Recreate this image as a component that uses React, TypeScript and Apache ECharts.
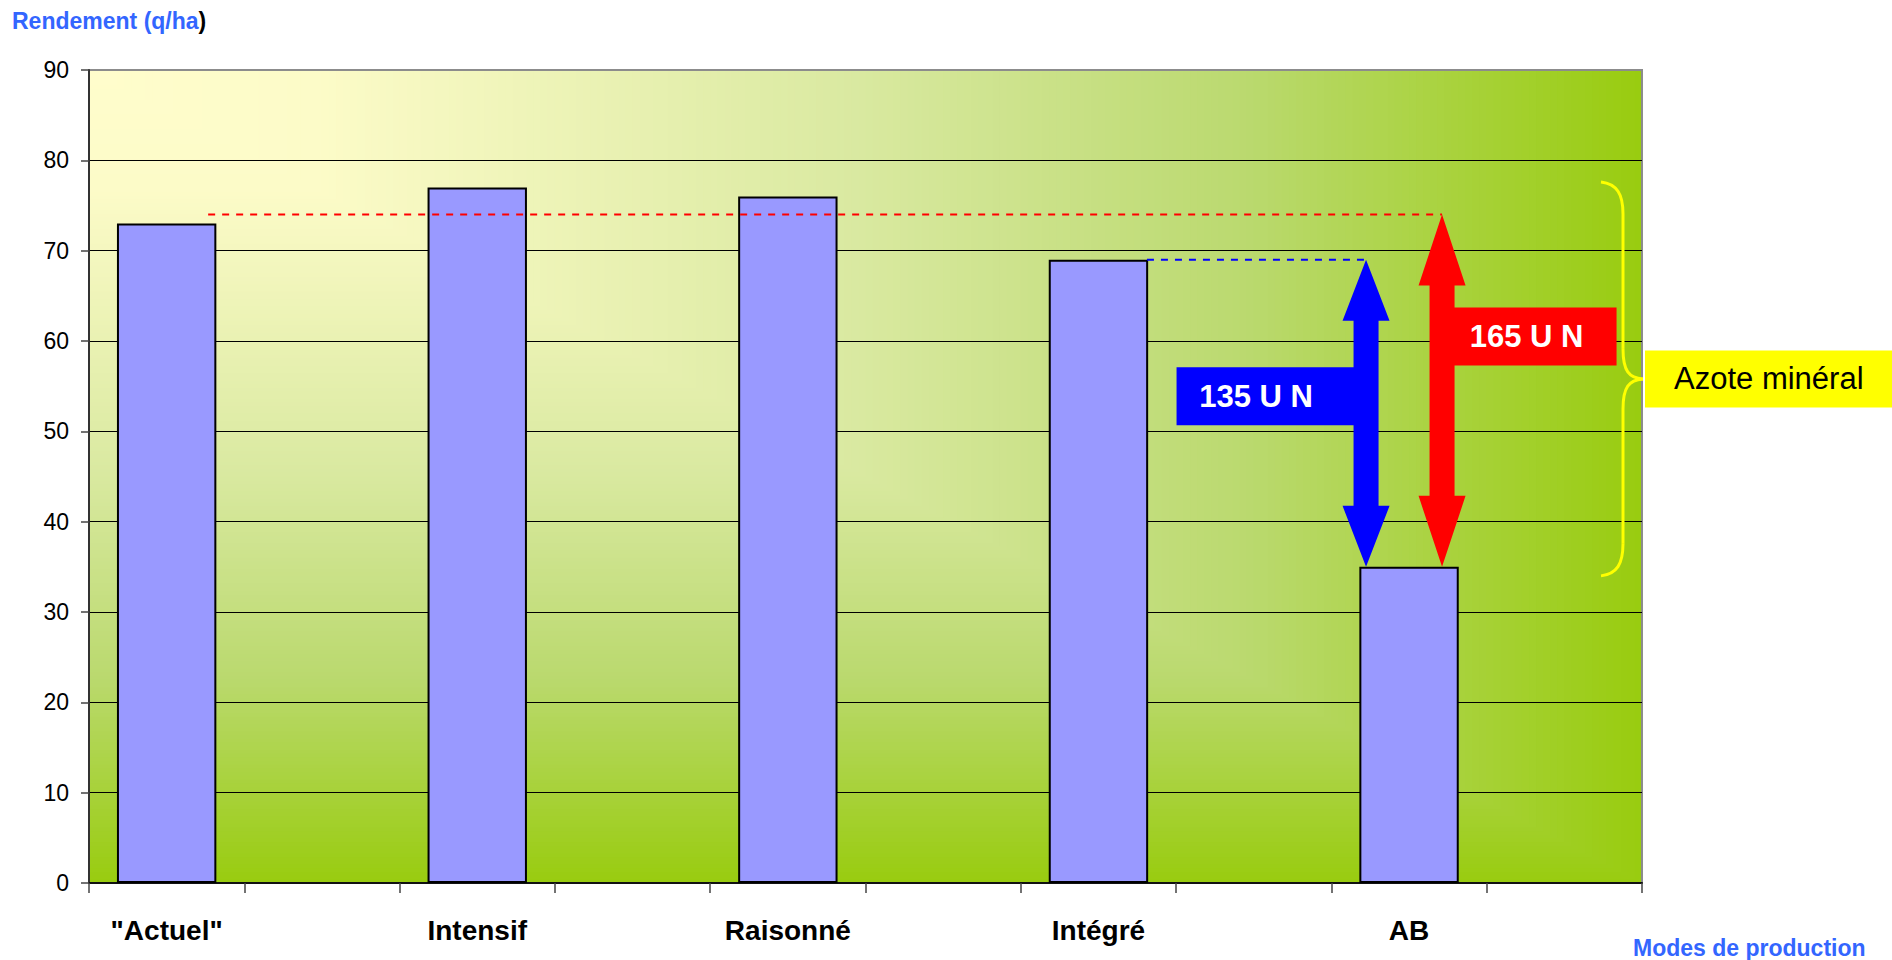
import { useEffect, useRef } from 'react';
import * as echarts from 'echarts';

// Yield per production mode (q/ha)
const categories = ['"Actuel"', 'Intensif', 'Raisonné', 'Intégré', 'AB'];
const yields = [73, 77, 76, 69, 35];

// Value-axis scale
const yMin = 0;
const yMax = 90;
const yStep = 10;

// Nitrogen gap annotations: from a yield level down to the organic (AB) yield
const nitrogenLabels = ['135 U N', '165 U N'];
const gapTopLevels = [69, 74];
const gapBottomLevel = 35;
const gapFromCategory = ['Intégré', '"Actuel"'];
const gapAtCategory = 'AB';

// Brace grouping the mineral-nitrogen effect
const braceTopLevel = 77.6;
const braceBottomLevel = 34;
const braceLabel = 'Azote minéral';

const FONT = '"Liberation Sans", Arial, Helvetica, sans-serif';
const GRID = { left: 89, top: 70, width: 1553, height: 813 };

// Each category occupies one slot followed by an empty spacer slot
const slotNames = categories.flatMap((c, i) => [c, `spacer${i}`]);
const slotOf = (name: string) => categories.indexOf(name) * 2;
const barData = yields.flatMap((v) => [v, '-']);

// Drawing parameters of the two double arrows (blue label on the left, red on the right)
const ARROW_STYLE = [
  { color: '#0000FF', side: -1, offset: -43, headLen: 61, boxLen: 177, boxFrac: 0.445, lineStart: 48.5 },
  { color: '#FF0000', side: 1, offset: 33, headLen: 71, boxLen: 162, boxFrac: 0.346, lineStart: 41.5 },
];

const GRADIENT_STOPS: [number, number[]][] = [
  [0, [255, 253, 204]],
  [0.15, [252, 251, 200]],
  [0.5, [217, 233, 160]],
  [0.75, [186, 217, 110]],
  [1, [153, 204, 16]],
];

function colorAt(t: number): string {
  for (let i = 1; i < GRADIENT_STOPS.length; i++) {
    const [t1, c1] = GRADIENT_STOPS[i];
    const [t0, c0] = GRADIENT_STOPS[i - 1];
    if (t <= t1) {
      const f = (t - t0) / (t1 - t0);
      const c = c0.map((v, k) => Math.round(v + (c1[k] - v) * f));
      return `rgb(${c[0]},${c[1]},${c[2]})`;
    }
  }
  const c = GRADIENT_STOPS[GRADIENT_STOPS.length - 1][1];
  return `rgb(${c[0]},${c[1]},${c[2]})`;
}

// Rectangular "from corner" fill: nested rectangles anchored at the top-left corner
function plotBackground() {
  const steps = 220;
  const els: any[] = [];
  for (let i = steps; i >= 1; i--) {
    const t = i / steps;
    els.push({
      type: 'rect',
      silent: true,
      z: -10,
      shape: { x: GRID.left, y: GRID.top, width: GRID.width * t, height: GRID.height * t },
      style: { fill: colorAt(t) },
    });
  }
  return els;
}

function renderGap(params: any, api: any) {
  const idx = params.dataIndex;
  const st = ARROW_STYLE[idx];
  const slot = api.value(0);
  const top = api.value(1);
  const bottom = api.value(2);
  const fromSlot = api.value(3);
  const [c0, yT] = api.coord([slot, top]);
  const [, yB] = api.coord([slot, bottom]);
  const [fx] = api.coord([fromSlot, top]);
  const cx = c0 + st.offset;
  const hw = 23.5;
  const sw = 12.5;
  const hl = st.headLen;
  const s = st.side;
  const n = -s;
  const boxMid = yT + st.boxFrac * (yB - yT);
  const bt = boxMid - 29;
  const bb = boxMid + 29;
  const bx = cx + s * (sw + st.boxLen);
  const points = [
    [cx, yT],
    [cx + n * hw, yT + hl],
    [cx + n * sw, yT + hl],
    [cx + n * sw, yB - hl],
    [cx + n * hw, yB - hl],
    [cx, yB],
    [cx + s * hw, yB - hl],
    [cx + s * sw, yB - hl],
    [cx + s * sw, bb],
    [bx, bb],
    [bx, bt],
    [cx + s * sw, bt],
    [cx + s * sw, yT + hl],
    [cx + s * hw, yT + hl],
  ];
  const textX = (cx + s * sw + bx) / 2 - 9;
  return {
    type: 'group',
    children: [
      {
        type: 'line',
        shape: { x1: fx + st.lineStart, y1: yT, x2: cx, y2: yT },
        style: { stroke: st.color, lineWidth: 2, lineDash: [7, 7] },
      },
      {
        type: 'polygon',
        shape: { points },
        style: { fill: st.color },
      },
      {
        type: 'text',
        style: {
          text: nitrogenLabels[idx],
          x: textX,
          y: boxMid,
          fill: '#FFFFFF',
          fontSize: 31,
          fontWeight: 'bold',
          fontFamily: FONT,
          align: 'center',
          verticalAlign: 'middle',
        },
      },
    ],
  };
}

export default function App() {
  const ref = useRef<HTMLDivElement>(null);

  useEffect(() => {
    if (!ref.current) return;
    const chart = echarts.init(ref.current, null, { renderer: 'svg' });

    const gapData = gapTopLevels.map((top, i) => [
      slotOf(gapAtCategory),
      top,
      gapBottomLevel,
      slotOf(gapFromCategory[i]),
    ]);

    chart.setOption({
      animation: false,
      backgroundColor: '#FFFFFF',
      textStyle: { fontFamily: FONT },
      grid: {
        left: GRID.left,
        top: GRID.top,
        width: GRID.width,
        height: GRID.height,
        show: true,
        borderColor: '#8C8C8C',
        borderWidth: 2,
        backgroundColor: 'transparent',
      },
      xAxis: {
        type: 'category',
        data: slotNames,
        boundaryGap: true,
        axisLine: { show: true, lineStyle: { color: '#111', width: 2 } },
        axisTick: { show: true, interval: 0, length: 10, lineStyle: { color: '#444', width: 1.5 } },
        axisLabel: {
          interval: 0,
          margin: 33,
          color: '#000',
          fontSize: 28,
          fontWeight: 'bold',
          fontFamily: FONT,
          formatter: (v: string) => (categories.includes(v) ? v : ''),
        },
        splitLine: { show: false },
      },
      yAxis: {
        type: 'value',
        min: yMin,
        max: yMax,
        interval: yStep,
        axisLine: { show: true, lineStyle: { color: '#333', width: 2 } },
        axisTick: { show: true, length: 8, lineStyle: { color: '#444', width: 1.5 } },
        axisLabel: { margin: 20, color: '#000', fontSize: 23, fontFamily: FONT },
        splitLine: { show: true, showMaxLine: false, lineStyle: { color: '#000', width: 1 } },
      },
      series: [
        {
          type: 'bar',
          data: barData,
          barWidth: '64%',
          itemStyle: { color: '#9999FF', borderColor: '#000', borderWidth: 2 },
        },
        {
          type: 'custom',
          renderItem: renderGap,
          data: gapData,
          z: 3,
          clip: false,
        },
      ],
    });

    const yPix = (v: number) => chart.convertToPixel({ yAxisIndex: 0 }, v) as number;
    const right = GRID.left + GRID.width;
    const bTop = yPix(braceTopLevel);
    const bBot = yPix(braceBottomLevel);
    const bMid = (bTop + bBot) / 2;
    const tipX = right - 41;
    const stemX = right - 19;
    const midX = right + 1;
    const braceStyle = { stroke: '#FFFF00', lineWidth: 3, fill: null };

    chart.setOption({
      graphic: [
        ...plotBackground(),
        {
          type: 'bezierCurve',
          shape: { x1: tipX, y1: bTop, cpx1: tipX + 16, cpy1: bTop + 2, cpx2: stemX, cpy2: bTop + 12, x2: stemX, y2: bTop + 32 },
          style: braceStyle,
          z: 5,
        },
        {
          type: 'line',
          shape: { x1: stemX, y1: bTop + 32, x2: stemX, y2: bMid - 30 },
          style: braceStyle,
          z: 5,
        },
        {
          type: 'bezierCurve',
          shape: { x1: stemX, y1: bMid - 30, cpx1: stemX, cpy1: bMid - 8, cpx2: stemX + 6, cpy2: bMid - 1, x2: midX, y2: bMid },
          style: braceStyle,
          z: 5,
        },
        {
          type: 'bezierCurve',
          shape: { x1: midX, y1: bMid, cpx1: stemX + 6, cpy1: bMid + 1, cpx2: stemX, cpy2: bMid + 8, x2: stemX, y2: bMid + 30 },
          style: braceStyle,
          z: 5,
        },
        {
          type: 'line',
          shape: { x1: stemX, y1: bMid + 30, x2: stemX, y2: bBot - 32 },
          style: braceStyle,
          z: 5,
        },
        {
          type: 'bezierCurve',
          shape: { x1: stemX, y1: bBot - 32, cpx1: stemX, cpy1: bBot - 12, cpx2: tipX + 16, cpy2: bBot - 2, x2: tipX, y2: bBot },
          style: braceStyle,
          z: 5,
        },
        {
          type: 'rect',
          z: 5,
          shape: { x: right + 3, y: bMid - 28.5, width: 1892 - right - 3, height: 57 },
          style: { fill: '#FFFF00' },
        },
        {
          type: 'text',
          z: 6,
          style: {
            text: braceLabel,
            x: right + 32,
            y: bMid,
            fill: '#000',
            fontSize: 31,
            fontFamily: FONT,
            align: 'left',
            verticalAlign: 'middle',
          },
        },
        {
          type: 'text',
          z: 6,
          style: {
            text: '{a|Rendement (q/ha}{b|)}',
            x: 12,
            y: 21,
            align: 'left',
            verticalAlign: 'middle',
            rich: {
              a: { fill: '#3366FF', fontSize: 23, fontWeight: 'bold', fontFamily: FONT },
              b: { fill: '#000000', fontSize: 23, fontWeight: 'bold', fontFamily: FONT },
            },
          },
        },
        {
          type: 'text',
          z: 6,
          style: {
            text: 'Modes de production',
            x: 1633,
            y: 948,
            fill: '#3366FF',
            fontSize: 23,
            fontWeight: 'bold',
            fontFamily: FONT,
            align: 'left',
            verticalAlign: 'middle',
          },
        },
      ],
    });

    return () => chart.dispose();
  }, []);

  return (
    <div
      ref={ref}
      style={{ position: 'absolute', left: 0, top: 0, width: 1892, height: 960 }}
    />
  );
}
